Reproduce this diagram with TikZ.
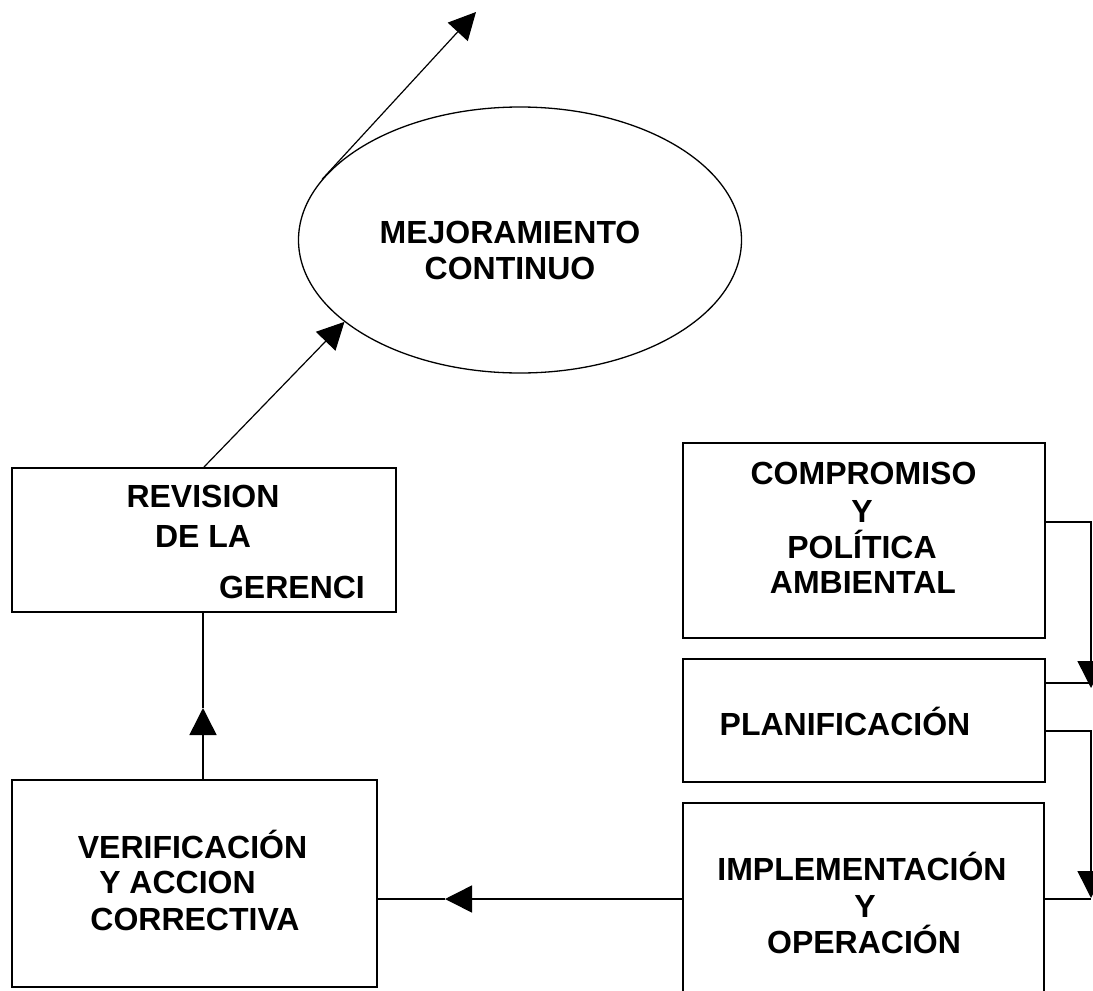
\documentclass[tikz,border=0pt]{standalone}
\usepackage{fontspec}
\setmainfont{Liberation Sans}
\usetikzlibrary{arrows.meta,shapes.geometric}
\begin{document}
\begin{tikzpicture}[x=1pt,y=-1pt,
  box/.style={draw,line width=2pt,inner sep=0pt,anchor=north west},
  lbl/.style={anchor=base,font=\fontsize{32}{36}\selectfont\bfseries,inner sep=0pt},
  conn/.style={line width=1.5pt},
  thin conn/.style={line width=1.2pt},
  arr/.style={-{Triangle[width=27pt,length=27pt]}}]
\useasboundingbox (0,0) rectangle (1093,991);
% shapes
\node[draw,ellipse,line width=1.3pt,inner sep=0pt,minimum width=443pt,minimum height=266pt] (mejora) at (520,240) {};
\node[box,minimum width=384pt,minimum height=144pt] (revision) at (11,467) {};
\node[box,minimum width=365pt,minimum height=207pt] (verif) at (11,779) {};
\node[box,minimum width=362pt,minimum height=195pt] (comp) at (682,442) {};
\node[box,minimum width=362pt,minimum height=123pt] (plan) at (682,658) {};
\node[box,minimum width=361pt,minimum height=230pt] (impl) at (682,802) {};
% texts
\node[lbl] (m1) at (510,243) {MEJORAMIENTO};
\node[lbl] (m2) at (510,279) {CONTINUO};
\node[lbl] (r1t) at (203,507) {REVISION};
\node[lbl] (r2t) at (203,547) {DE LA};
\node[lbl] (r3t) at (292,598) {GERENCI};
\node[lbl] (v1t) at (192.5,858) {VERIFICACIÓN};
\node[lbl] (v2t) at (177.5,893) {Y ACCION};
\node[lbl] (v3t) at (195,930) {CORRECTIVA};
\node[lbl] (c1t) at (863.5,484) {COMPROMISO};
\node[lbl] (c2t) at (862,522) {Y};
\node[lbl] (c3t) at (862,558) {POLÍTICA};
\node[lbl] (c4t) at (863,593) {AMBIENTAL};
\node[lbl] (p1t) at (845,735) {PLANIFICACIÓN};
\node[lbl] (i1t) at (862,880) {IMPLEMENTACIÓN};
\node[lbl] (i2t) at (865,917) {Y};
\node[lbl] (i3t) at (864,953) {OPERACIÓN};
% coordinates
\coordinate (toptip) at (476,12);
\coordinate (vtip) at (203,708);
\coordinate (htip) at (445,899);
\coordinate (ra) at (1091,522);
\coordinate (ratip) at (1091,688);
\coordinate (rain) at (1091,683);
\coordinate (rb) at (1091,731);
\coordinate (rbtip) at (1091,898);
\coordinate (rbin) at (1091,899);
% connectors
\draw[thin conn,arr] (mejora.163.9) -- (toptip);
\draw[thin conn,arr] (revision.north) -- (mejora.205.8);
\draw[conn,arr] (vtip |- verif.north) -- (vtip);
\draw[conn] (vtip) -- (vtip |- revision.south);
\draw[conn,arr] (impl.west |- htip) -- (htip);
\draw[conn] (htip) -- (verif.east |- htip);
\draw[conn,arr] (comp.east |- ra) -- (ra) -- (ratip);
\draw[conn] (plan.east |- rain) -- (rain);
\draw[conn,arr] (plan.east |- rb) -- (rb) -- (rbtip);
\draw[conn] (impl.east |- rbin) -- (rbin);
\end{tikzpicture}
\end{document}
